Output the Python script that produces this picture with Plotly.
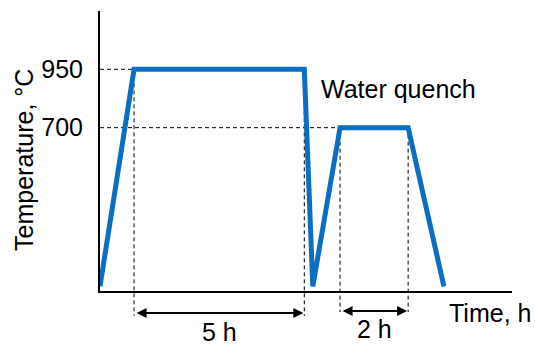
import plotly.graph_objects as go

# Heat-treatment schedule (time in h, temperature in °C)
times = [0.0, 1.0, 6.0, 6.25, 7.05, 9.05, 10.1]
temps = [20, 950, 950, 20, 700, 700, 20]
tick_vals = [950, 700]
tick_text = ["950", "700"]
hold1 = (1.0, 6.0)     # 950 °C hold: 5 h
hold2 = (7.05, 9.05)   # 700 °C hold: 2 h
hold_labels = ["5 h", "2 h"]

X_MAX = 12.1
Y_MAX = 1200
FONT = "Arial, Liberation Sans, sans-serif"
FS = 25
BLUE = "#0A6FC2"

fig = go.Figure()
fig.add_trace(go.Scatter(
    x=times, y=temps, mode="lines",
    line=dict(color=BLUE, width=5), showlegend=False, hoverinfo="skip",
))

shapes = []
dash = dict(color="black", width=1, dash="4px,3px")
# horizontal dashed guides
shapes.append(dict(type="line", xref="x", yref="y", x0=0, x1=hold1[0], y0=950, y1=950, line=dash, layer="below"))
shapes.append(dict(type="line", xref="x", yref="y", x0=0, x1=hold2[0], y0=700, y1=700, line=dash, layer="below"))
# vertical dashed guides, extending below the time axis
for t in hold1:
    shapes.append(dict(type="line", xref="x", yref="paper", x0=t, x1=t,
                       y0=950 / Y_MAX, y1=-0.089, line=dash, layer="below"))
for t in hold2:
    shapes.append(dict(type="line", xref="x", yref="paper", x0=t, x1=t,
                       y0=700 / Y_MAX, y1=-0.075, line=dash, layer="below"))

font = dict(size=FS, color="black", family=FONT)
annotations = []
# double-headed duration arrows
for (a, b), yp in [(hold1, -0.0786), (hold2, -0.0714)]:
    annotations.append(dict(
        x=b, y=yp, xref="x", yref="paper", ax=a, ay=0, axref="x", ayref="pixel",
        text="", showarrow=True, arrowhead=2, startarrowhead=2, arrowside="end+start",
        arrowsize=1, startarrowsize=1, arrowwidth=2, arrowcolor="black", standoff=1, startstandoff=1,
    ))
annotations.append(dict(x=(hold1[0] + hold1[1]) / 2, y=-0.147, xref="x", yref="paper",
                        text=hold_labels[0], showarrow=False, xanchor="center", yanchor="middle",
                        font=font))
annotations.append(dict(x=(hold2[0] + hold2[1]) / 2, y=-0.134, xref="x", yref="paper",
                        text=hold_labels[1], showarrow=False, xanchor="center", yanchor="middle",
                        font=font))
annotations.append(dict(x=0.843, y=-0.0786, xref="paper", yref="paper", text="Time, h",
                        showarrow=False, xanchor="left", yanchor="middle", font=font))
annotations.append(dict(x=6.44, y=865, xref="x", yref="y", text="Water quench",
                        showarrow=False, xanchor="left", yanchor="middle", font=font))
annotations.append(dict(x=-0.1845, y=0.468, xref="paper", yref="paper", text="Temperature, °C",
                        textangle=-90, showarrow=False, xanchor="center", yanchor="middle",
                        font=font))

fig.update_layout(
    width=535, height=346,
    margin=dict(l=100, r=23, t=11, b=55),
    paper_bgcolor="white", plot_bgcolor="white",
    font=font,
    shapes=shapes, annotations=annotations,
    xaxis=dict(range=[0, X_MAX], showline=True, linecolor="black", linewidth=2,
               showgrid=False, zeroline=False, showticklabels=False, ticks="", fixedrange=True),
    yaxis=dict(range=[0, Y_MAX], showline=True, linecolor="black", linewidth=2,
               showgrid=False, zeroline=False, tickmode="array", tickvals=tick_vals,
               ticktext=tick_text, ticks="", ticklabelstandoff=10,
               tickfont=font, fixedrange=True),
)

fig.write_html("out.html", config={"displayModeBar": False})
